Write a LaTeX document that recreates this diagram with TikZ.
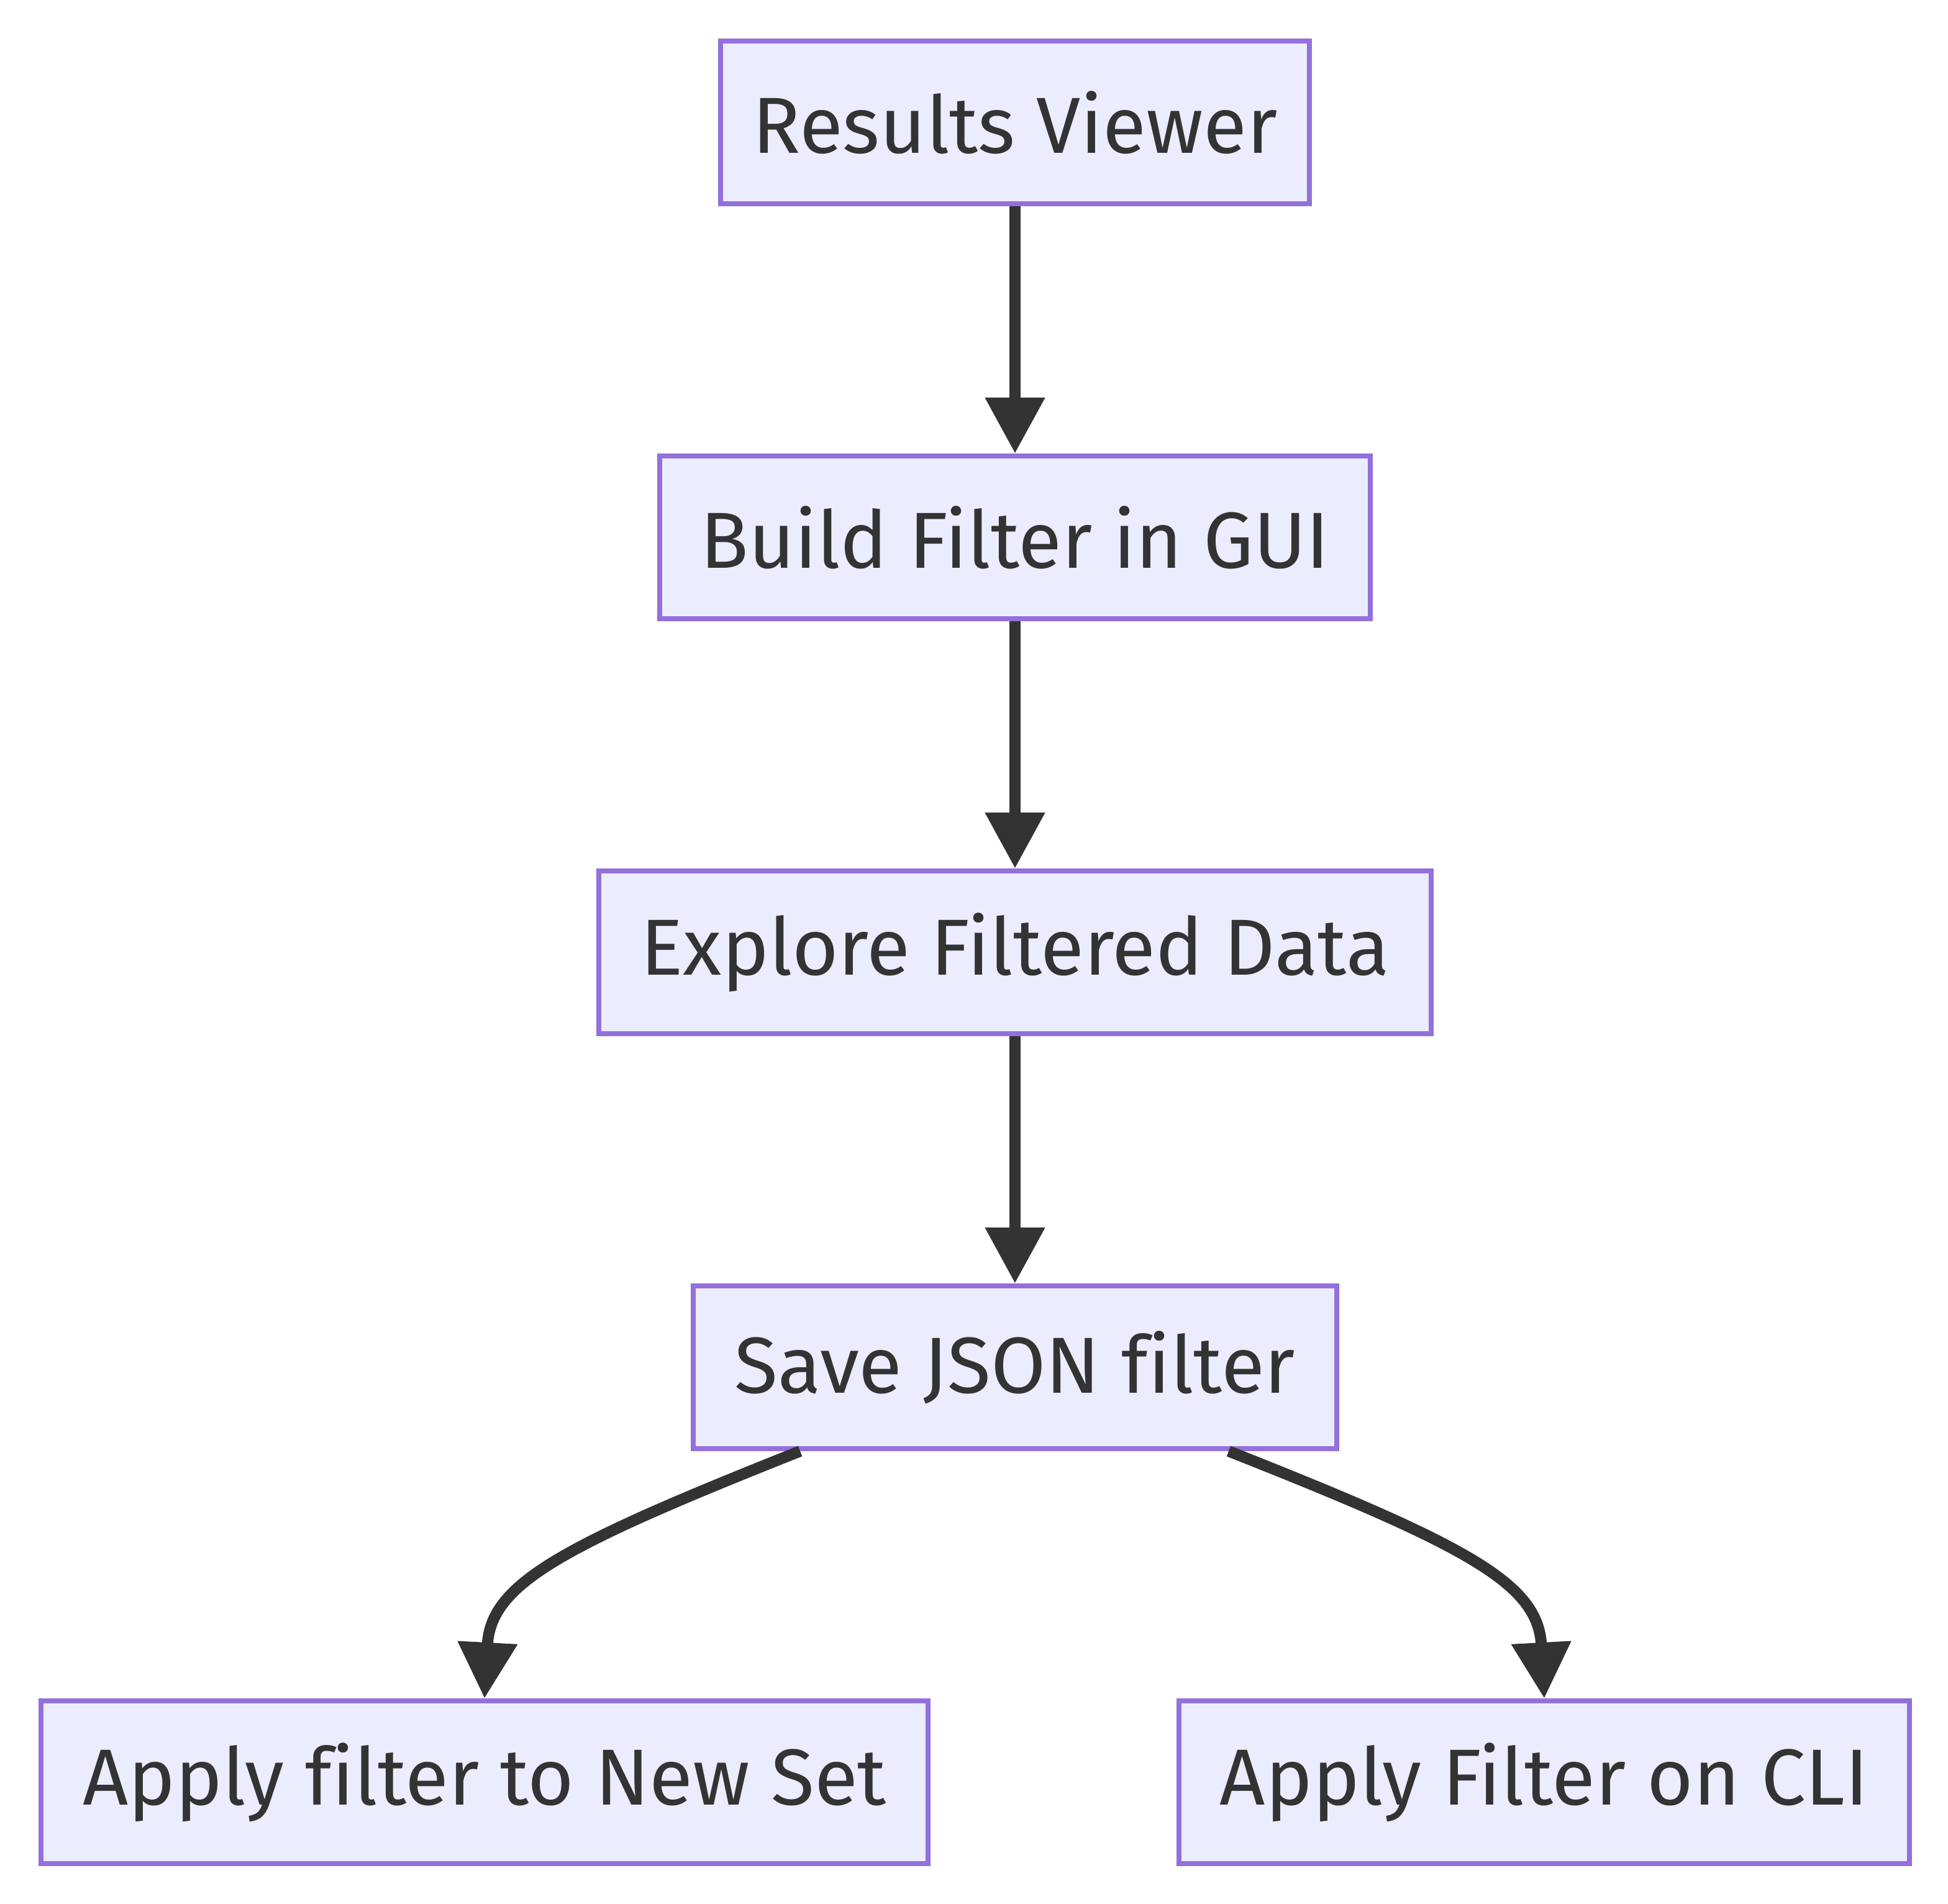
\documentclass[tikz,border=0pt]{standalone}
\usepackage{fontspec}
\setmainfont[Ligatures=NoCommon]{Fira Sans}
\usetikzlibrary{arrows.meta}
\definecolor{boxfill}{HTML}{ECECFF}
\definecolor{boxline}{HTML}{9370DB}
\definecolor{ink}{HTML}{333333}
\tikzset{
  stage/.style={draw=boxline, fill=boxfill, line width=2pt, text=ink,
    minimum height=65.5pt, inner sep=0pt, font=\fontsize{32}{38}\selectfont},
  flow/.style={draw=ink, line width=4.5pt, -{Triangle[width=23pt,length=22.5pt]}}
}
\begin{document}
\begin{tikzpicture}[x=0.5pt,y=-0.5pt]
	\useasboundingbox (0,0) rectangle (1568,1532);
	\node [stage, minimum width=237pt] (viewer) at (817,98.5) {Results Viewer};
	\node [stage, minimum width=286pt] (gui) at (817,432.5) {Build Filter in GUI};
	\node [stage, minimum width=335pt] (explore) at (817,766.5) {Explore Filtered Data};
	\node [stage, minimum width=259pt] (save) at (817,1100.5) {Save JSON filter};
	\node [stage, minimum width=357pt] (newset) at (390,1434.5) {Apply filter to New Set};
	\node [stage, minimum width=294pt] (cli) at (1243,1434.5) {Apply Filter on CLI};
	\draw [flow] (viewer) -- (gui);
	\draw [flow] (gui) -- (explore);
	\draw [flow] (explore) -- (save);
	\draw [flow] ([xshift=44pt]save.south west) .. controls (450,1245) and (395,1275) .. (newset.north);
	\draw [flow] ([xshift=-44.5pt]save.south east) .. controls (1184,1245) and (1238,1275) .. (cli.north);
\end{tikzpicture}
\end{document}
